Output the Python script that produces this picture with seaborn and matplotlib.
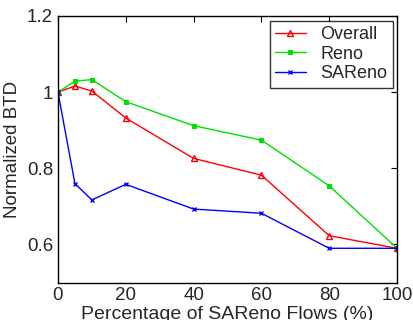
import numpy as np
import pandas as pd
import matplotlib
matplotlib.use("Agg")
import matplotlib.pyplot as plt
import seaborn as sns

pct = [0, 5, 10, 20, 40, 60, 80, 100]
overall = [1.0, 1.016, 1.003, 0.932, 0.826, 0.782, 0.623, 0.59]
reno = [1.0, 1.029, 1.033, 0.975, 0.912, 0.874, 0.754, 0.59]
sareno = [1.0, 0.760, 0.717, 0.758, 0.693, 0.682, 0.59, 0.59]

sns.set_style("white")
plt.rcParams['font.family'] = ['Liberation Sans', 'DejaVu Sans']

fig = plt.figure(figsize=(4.14, 3.2), dpi=100)
ax = fig.add_axes([0.140, 0.117, 0.819, 0.833])

# one call per series: marker styles differ (open triangle / square / x)
sns.lineplot(x=pct, y=overall, color="#ff0000", marker="^", markersize=5,
             markerfacecolor="none", markeredgecolor="#ff0000", markeredgewidth=1,
             linewidth=1, ax=ax, label="Overall")
sns.lineplot(x=pct, y=reno, color="#00e000", marker="s", markersize=2.5,
             markeredgecolor="#00e000", linewidth=1, ax=ax, label="Reno")
sns.lineplot(x=pct, y=sareno, color="#0000ff", marker="x", markersize=3,
             markeredgecolor="#0000ff", markeredgewidth=1, linewidth=1, ax=ax, label="SAReno")

ax.set_xlim(0, 100)
ax.set_ylim(0.5, 1.2)
ax.set_xticks([0, 20, 40, 60, 80, 100])
ax.set_yticks([0.6, 0.8, 1.0, 1.2])
ax.set_yticklabels(["0.6", "0.8", "1", "1.2"])
ax.tick_params(direction="in", length=4, labelsize=13.5, top=True, right=True, color="black")
ax.set_xlabel("Percentage of SAReno Flows (%)", fontsize=14, labelpad=1)
ax.set_ylabel("Normalized BTD", fontsize=13.5, labelpad=4)
for s in ax.spines.values():
    s.set_color("black")
    s.set_linewidth(1)

leg = ax.legend(loc="upper right", fontsize=13, frameon=True, fancybox=False,
                borderaxespad=0.25, handlelength=1.7, labelspacing=0.15, borderpad=0.3)
leg.get_frame().set_edgecolor("black")
leg.get_frame().set_linewidth(1)

fig.savefig("out.png", dpi=100)
